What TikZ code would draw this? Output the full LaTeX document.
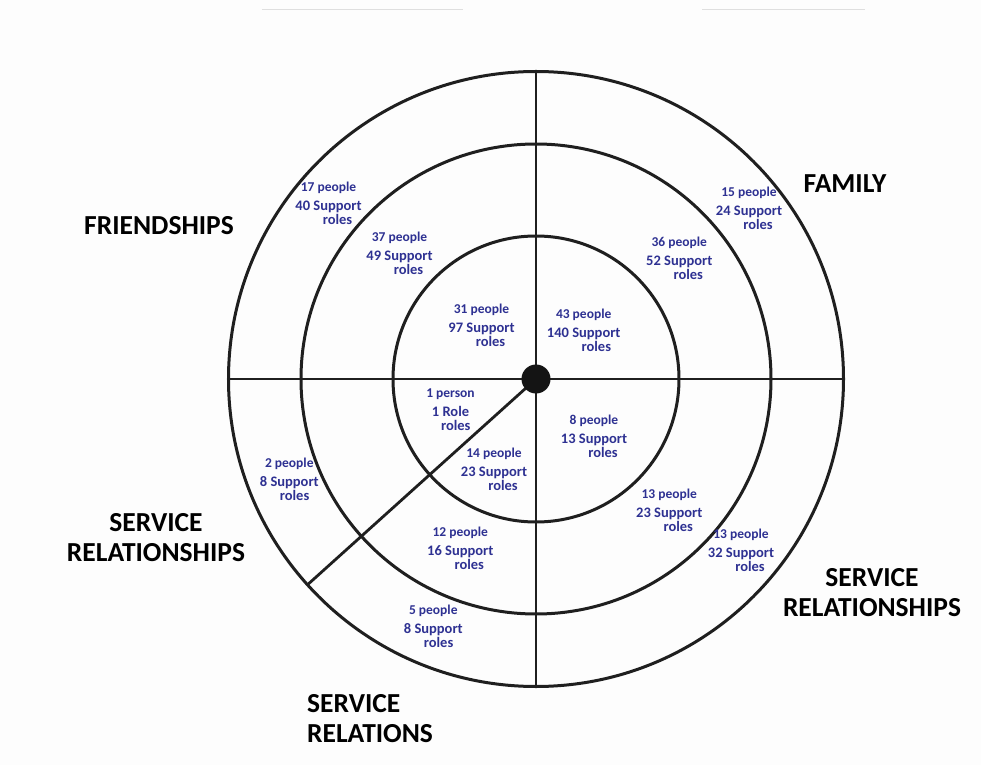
\documentclass[tikz,border=0pt]{standalone}
\usepackage{fontspec}
\setmainfont{Carlito}
\usetikzlibrary{positioning}
\definecolor{tallyblue}{HTML}{2E3192}
\definecolor{paper}{HTML}{FDFDFD}
\newcommand{\tally}[2]{{\fontsize{13.5}{13}\selectfont #1 people}\\[5pt]#2 Support\\\phantom{#2 }roles}

\begin{document}
\begin{tikzpicture}[x=1pt,y=1pt,
  ring/.style={line width=3pt, draw=black!88},
  spoke/.style={line width=2.8pt, draw=black!88},
  tag/.style={font=\fontsize{27.5}{30}\selectfont\bfseries, align=center, inner sep=0pt},
  count/.style={text=tallyblue, font=\fontsize{14.5}{14}\selectfont\bfseries, align=center, inner sep=0pt}]
  \fill[paper] (-536,-386) rectangle (445,379);
  \useasboundingbox (-536,-386) rectangle (445,379);
  \draw[gray!25, line width=1pt] (-274,369) -- (-73,369);
  \draw[gray!25, line width=1pt] (166,369) -- (329,369);

  \foreach \r in {143,235,307.5}
    \draw[ring] (0,0) circle (\r);
  \coordinate (hub) at (0,0);
  \coordinate (rimN) at (90:307.5);
  \coordinate (rimS) at (270:307.5);
  \coordinate (rimE) at (0:307.5);
  \coordinate (rimW) at (180:307.5);
  \coordinate (rimSW) at (222:307.5);
  \draw[spoke] (rimW) -- (rimE);
  \draw[spoke] (rimN) -- (rimS);
  \draw[spoke] (hub) -- (rimSW);
  \fill[black!92] (hub) circle (14.5);

  \node[tag] (friends) at (-377,153) {FRIENDSHIPS};
  \node[tag] (family) at (309,195) {FAMILY};
  \node[tag] (serviceW) at (-380,-158.5) {SERVICE\\RELATIONSHIPS};
  \node[tag] (serviceE) at (336,-213.5) {SERVICE\\RELATIONSHIPS};
  \node[tag, align=left, anchor=west] (serviceS) at (-229,-340) {SERVICE\\RELATIONS};

  \node[count] (fr3) at (-207.5,176) {\tally{17}{40}};
  \node[count] (fr2) at (-136.5,125.7) {\tally{37}{49}};
  \node[count] (fr1) at (-54.5,53.7) {\tally{31}{97}};
  \node[count] (fa1) at (47.7,49) {\tally{43}{140}};
  \node[count] (fa2) at (143.3,120.7) {\tally{36}{52}};
  \node[count] (fa3) at (213,170.7) {\tally{15}{24}};
  \node[count] (sw1) at (-85.5,-30.2) {{\fontsize{13.5}{13}\selectfont 1 person}\\[5pt]1 Role\\\phantom{1 }roles};
  \node[count] (sw3) at (-246.7,-100.7) {\tally{2}{8}};
  \node[count] (ss1) at (-42,-90.2) {\tally{14}{23}};
  \node[count] (ss2) at (-75.7,-169.7) {\tally{12}{16}};
  \node[count] (ss3) at (-102.7,-247.2) {\tally{5}{8}};
  \node[count] (se1) at (58,-57.7) {\tally{8}{13}};
  \node[count] (se2) at (133.3,-131) {\tally{13}{23}};
  \node[count] (se3) at (205,-171.7) {\tally{13}{32}};
\end{tikzpicture}
\end{document}
